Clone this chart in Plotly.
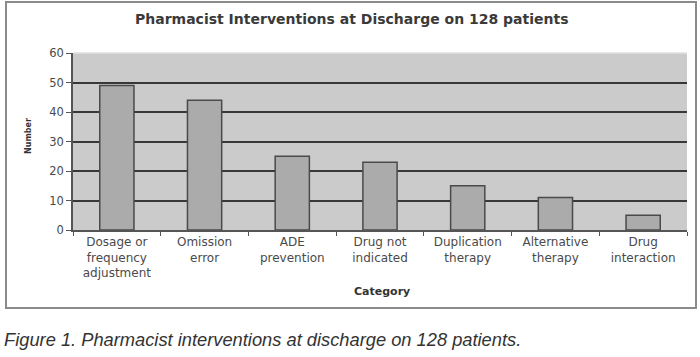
import plotly.graph_objects as go

categories = ["Dosage or<br>frequency<br>adjustment", "Omission<br>error", "ADE<br>prevention",
              "Drug not<br>indicated", "Duplication<br>therapy", "Alternative<br>therapy", "Drug<br>interaction"]
values = [49, 44, 25, 23, 15, 11, 5]
y_ticks = [0, 10, 20, 30, 40, 50, 60]

W, H = 700, 357
L, R, T, B = 73, 13, 53, 127
pw, ph = W - L - R, H - T - B

def px(x):
    return (x - L) / pw

def py(y):
    return (H - B - y) / ph

wide = "DejaVu Sans, Verdana, sans-serif"

fig = go.Figure()
fig.add_trace(go.Bar(
    x=categories, y=values, width=0.39,
    marker=dict(color="#ababab", line=dict(color="#4a4a4a", width=1.5)),
))

fig.update_layout(
    width=W, height=H,
    margin=dict(l=L, r=R, t=T, b=B),
    paper_bgcolor="white",
    plot_bgcolor="#cbcbcb",
    showlegend=False,
    font=dict(family=wide, color="#444444", size=11),
    xaxis=dict(
        showline=True, linecolor="#555555", linewidth=1.5,
        ticks="outside", ticklen=4, tickcolor="#555555",
        tickson="boundaries",
        showgrid=False,
        tickfont=dict(size=12, color="#4a4a4a", family=wide),
    ),
    yaxis=dict(
        range=[0, 60], tickvals=y_ticks,
        showline=True, linecolor="#555555", linewidth=1.5,
        ticks="outside", ticklen=5, tickcolor="#555555",
        showgrid=True, gridcolor="#383838", gridwidth=1.8,
        zeroline=False,
        tickfont=dict(size=11.5, color="#4a4a4a", family=wide),
    ),
    shapes=[
        dict(type="rect", xref="paper", yref="paper",
             x0=px(6), x1=px(696), y0=py(308), y1=py(2),
             line=dict(color="#8a8a8a", width=2), layer="below"),
        dict(type="line", xref="paper", yref="paper",
             x0=0, x1=1, y0=1, y1=1,
             line=dict(color="#e0e0e0", width=1.5)),
    ],
    annotations=[
        dict(text="<b>Pharmacist Interventions at Discharge on 128 patients</b>",
             xref="paper", yref="paper", x=px(352), y=py(19),
             xanchor="center", yanchor="middle", showarrow=False,
             font=dict(size=14, color="#3a3a3a", family=wide)),
        dict(text="<b>Number</b>", textangle=-90,
             xref="paper", yref="paper", x=px(28), y=py(136),
             xanchor="center", yanchor="middle", showarrow=False,
             font=dict(size=8, color="#333333", family=wide)),
        dict(text="<b>Category</b>",
             xref="paper", yref="paper", x=px(382), y=py(291),
             xanchor="center", yanchor="middle", showarrow=False,
             font=dict(size=11, color="#333333", family=wide)),
        dict(text="<i>Figure 1. Pharmacist interventions at discharge on 128 patients.</i>",
             xref="paper", yref="paper", x=px(2), y=py(339),
             xanchor="left", yanchor="middle", showarrow=False,
             font=dict(size=18.3, color="#333333",
                       family="Liberation Sans Narrow, Arial Narrow, Liberation Sans, sans-serif")),
    ],
)

fig.write_html("out.html", config={"displayModeBar": False},
               post_script="document.body.style.margin='0px';")
